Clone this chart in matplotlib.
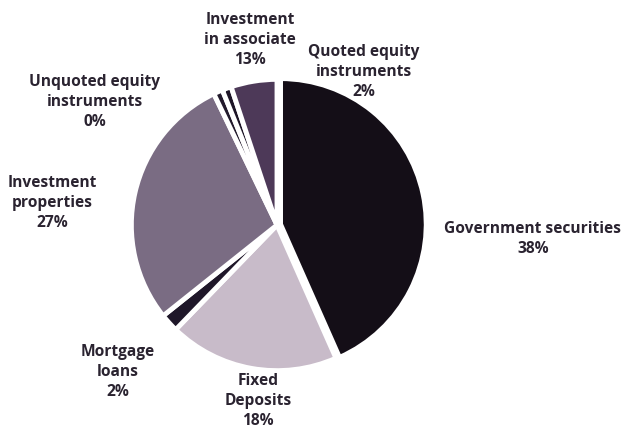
import matplotlib.pyplot as plt

# Slice shares as drawn (clockwise from 12 o'clock), and their printed labels
categories = ['Government securities', 'Fixed\nDeposits', 'Mortgage\nloans',
              'Investment\nproperties', 'Unquoted equity\ninstruments',
              'Quoted equity\ninstruments', 'Investment\nin associate']
shares = [42.5, 18.5, 2.0, 28.0, 1.0, 1.0, 5.0]
printed_pct = ['38%', '18%', '2%', '27%', '0%', '2%', '13%']
colors = ['#140e17', '#c8bbc9', '#1f1729', '#7a6c83', '#221a2c', '#1d1527', '#4d3958']

W, H = 625, 430
fig = plt.figure(figsize=(W / 100, H / 100), dpi=100)
fig.patch.set_facecolor('white')

# pie centre / radius in pixels
cx, cy, r = 277, 225, 150
ax = fig.add_axes([(cx - r) / W, (H - cy - r) / H, 2 * r / W, 2 * r / H])
ax.pie(shares, colors=colors, startangle=90, counterclock=False,
       explode=[0.025, 0, 0, 0, 0, 0, 0],
       wedgeprops=dict(edgecolor='white', linewidth=3.5))
ax.set_xlim(-1.03, 1.03)
ax.set_ylim(-1.03, 1.03)
ax.set_aspect('equal')
ax.axis('off')

# label anchor points (pixel coords of the label centre)
label_pos = [(533, 239), (258, 401), (118, 372), (52, 203),
             (95, 102), (364, 72), (250, 40)]

for name, pct, (px, py) in zip(categories, printed_pct, label_pos):
    fig.text(px / W, 1 - py / H, name + '\n' + pct, ha='center', va='center',
             fontsize=11.2, fontweight='bold', color='#2a2330',
             family='Open Sans', linespacing=1.3)

fig.savefig('out.png', dpi=100)
